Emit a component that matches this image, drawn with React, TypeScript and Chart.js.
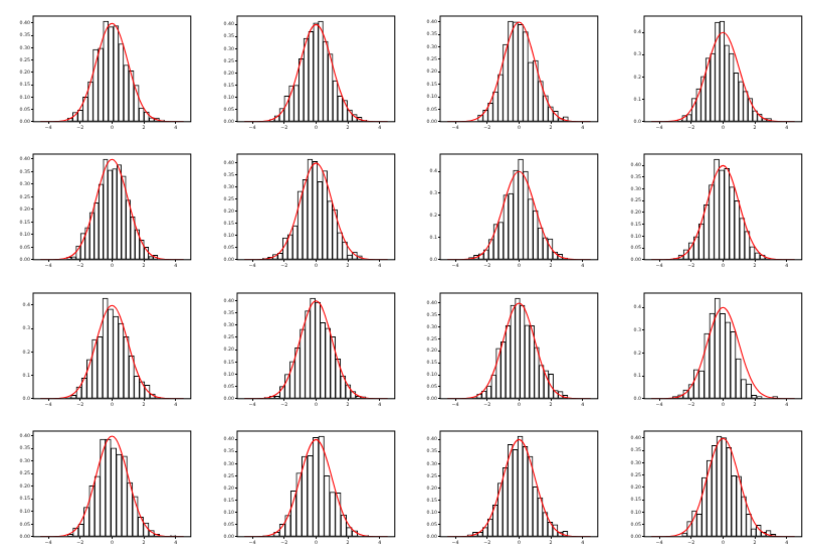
import React, { useEffect, useRef } from "react";
import { Chart, registerables } from "chart.js";

Chart.register(...registerables);

// Red overlay curve (standard normal density, values read per 0.25)
const curveX = [
  -4.5, -4.25, -4, -3.75, -3.5, -3.25, -3, -2.75, -2.5, -2.25, -2, -1.75, -1.5, -1.25, -1, -0.75, -0.5, -0.25,
  0, 0.25, 0.5, 0.75, 1, 1.25, 1.5, 1.75, 2, 2.25, 2.5, 2.75, 3, 3.25, 3.5, 3.75, 4, 4.25, 4.5,
];
const curveY = [
  0.00002, 0.00005, 0.0001, 0.0004, 0.0009, 0.002, 0.0044, 0.0091, 0.0175, 0.0317, 0.054, 0.0863, 0.1295, 0.1826, 0.242, 0.3011, 0.3521, 0.3867,
  0.3989, 0.3867, 0.3521, 0.3011, 0.242, 0.1826, 0.1295, 0.0863, 0.054, 0.0317, 0.0175, 0.0091, 0.0044, 0.002, 0.0009, 0.0004, 0.0001, 0.00005, 0.00002,
];

const xTickValues = [-4, -2, 0, 2, 4];
const xLimits = [-4.95, 4.95];

// Histogram bins: left edge of first bin and bin width per panel
const binStarts = [-2.79, -2.91, -2.58, -2.86, -2.83, -3.34, -3.15, -3.12, -2.9, -3.23, -2.94, -3.16, -2.79, -3.34, -3.22, -2.57];
const binWidths = [0.32, 0.305, 0.315, 0.295, 0.285, 0.312, 0.31, 0.32, 0.33, 0.318, 0.3, 0.33, 0.34, 0.35, 0.314, 0.31];
const yTickSteps = [0.05, 0.05, 0.05, 0.1, 0.05, 0.05, 0.1, 0.05, 0.1, 0.05, 0.05, 0.1, 0.05, 0.05, 0.05, 0.05];

const hist1 = [0.015, 0.038, 0.047, 0.1, 0.162, 0.293, 0.298, 0.408, 0.385, 0.389, 0.316, 0.23, 0.206, 0.148, 0.056, 0.04, 0.016, 0.015, 0.007];
const hist2 = [0.008, 0.025, 0.055, 0.105, 0.148, 0.15, 0.258, 0.342, 0.37, 0.405, 0.413, 0.33, 0.278, 0.168, 0.105, 0.088, 0.048, 0.03, 0.018, 0.006];
const hist3 = [0.027, 0.046, 0.075, 0.12, 0.19, 0.31, 0.403, 0.4, 0.39, 0.36, 0.238, 0.245, 0.162, 0.105, 0.06, 0.042, 0.013, 0.02];
const hist4 = [0.008, 0.028, 0.033, 0.105, 0.148, 0.203, 0.285, 0.305, 0.445, 0.45, 0.343, 0.305, 0.218, 0.18, 0.136, 0.105, 0.05, 0.035, 0.015, 0.015];
const hist5 = [0.01, 0.012, 0.055, 0.105, 0.128, 0.188, 0.226, 0.3, 0.4, 0.357, 0.362, 0.378, 0.333, 0.237, 0.17, 0.12, 0.078, 0.05, 0.013, 0.018];
const hist6 = [0.006, 0.01, 0.022, 0.027, 0.09, 0.104, 0.14, 0.283, 0.33, 0.415, 0.405, 0.322, 0.367, 0.242, 0.207, 0.112, 0.074, 0.02, 0.032, 0.016];
const hist7 = [0.01, 0.02, 0.027, 0.045, 0.092, 0.16, 0.17, 0.293, 0.3, 0.405, 0.455, 0.4, 0.275, 0.222, 0.145, 0.1, 0.095, 0.035, 0.025, 0.008];
const hist8 = [0.005, 0.02, 0.043, 0.072, 0.098, 0.152, 0.232, 0.317, 0.426, 0.38, 0.386, 0.308, 0.25, 0.176, 0.12, 0.055, 0.03, 0.02, 0.007];
const hist9 = [0.005, 0.015, 0.05, 0.088, 0.168, 0.253, 0.265, 0.43, 0.383, 0.352, 0.322, 0.265, 0.183, 0.097, 0.073, 0.058, 0.02, 0.005];
const hist10 = [0.005, 0.01, 0.01, 0.05, 0.1, 0.152, 0.207, 0.283, 0.358, 0.41, 0.393, 0.31, 0.287, 0.252, 0.162, 0.093, 0.057, 0.03, 0.01, 0.008];
const hist11 = [0.005, 0.02, 0.033, 0.053, 0.1, 0.21, 0.238, 0.305, 0.39, 0.42, 0.39, 0.307, 0.305, 0.215, 0.14, 0.118, 0.103, 0.035, 0.03, 0.015];
const hist12 = [0.01, 0.017, 0.038, 0.063, 0.128, 0.122, 0.285, 0.373, 0.44, 0.372, 0.335, 0.293, 0.175, 0.085, 0.065, 0.015, 0.01, 0, 0, 0.01];
const hist13 = [0.01, 0.035, 0.05, 0.117, 0.202, 0.24, 0.387, 0.387, 0.352, 0.327, 0.32, 0.215, 0.16, 0.078, 0.055, 0.025, 0.01, 0, 0, 0.005];
const hist14 = [0.004, 0.005, 0.018, 0.052, 0.088, 0.188, 0.262, 0.33, 0.333, 0.407, 0.413, 0.25, 0.183, 0.18, 0.09, 0.038, 0.025, 0.004, 0.005];
const hist15 = [0.008, 0.018, 0.018, 0.038, 0.073, 0.13, 0.22, 0.283, 0.378, 0.358, 0.413, 0.37, 0.33, 0.205, 0.16, 0.1, 0.06, 0.05, 0.02, 0.023];
const hist16 = [0.015, 0.062, 0.105, 0.092, 0.24, 0.31, 0.37, 0.408, 0.402, 0.362, 0.247, 0.245, 0.163, 0.092, 0.033, 0.047, 0.018, 0.025, 0.01];

const histograms = [hist1, hist2, hist3, hist4, hist5, hist6, hist7, hist8, hist9, hist10, hist11, hist12, hist13, hist14, hist15, hist16];

// Layout (pixels)
const AX_LEFT0 = 33.3;
const AX_DX = 203.55;
const AX_TOP0 = 16;
const AX_DY = 138.45;
const AX_W = 156.8;
const AX_H = 104.8;
const PAD_L = 33;
const PAD_R = 8;
const PAD_T = 8;
const PAD_B = 16;

const tickFont = { family: "DejaVu Sans", size: 4.7 };
const tickColor = "#222";

const framePlugin = {
  id: "frame",
  afterDraw(chart: any) {
    const { ctx, chartArea: a } = chart;
    ctx.save();
    ctx.strokeStyle = "#000";
    ctx.lineWidth = 1;
    ctx.strokeRect(a.left, a.top, a.right - a.left, a.bottom - a.top);
    ctx.restore();
  },
};

function Panel({ idx }: { idx: number }) {
  const ref = useRef<HTMLCanvasElement | null>(null);
  useEffect(() => {
    const heights = histograms[idx];
    const start = binStarts[idx];
    const w = binWidths[idx];
    const barData = heights.map((h, i) => ({ x: start + (i + 0.5) * w, y: h }));
    const lineData = curveX.map((x, i) => ({ x, y: curveY[i] }));
    const yMax = Math.max(...heights, ...curveY) * 1.05;
    const step = yTickSteps[idx];
    const yTicks: number[] = [];
    for (let k = 0; k * step <= yMax + 1e-9; k++) yTicks.push(+(k * step).toFixed(3));
    const decimals = step < 0.1 ? 2 : 1;

    const chart = new Chart(ref.current as HTMLCanvasElement, {
      type: "bar",
      data: {
        datasets: [
          {
            type: "line",
            data: lineData,
            borderColor: "#ff0000",
            borderWidth: 1.1,
            pointRadius: 0,
            cubicInterpolationMode: "monotone",
            fill: false,
            order: 0,
          } as any,
          {
            type: "bar",
            data: barData,
            backgroundColor: "#ffffff",
            borderColor: "#000000",
            borderWidth: 1,
            borderSkipped: false,
            barPercentage: 1,
            categoryPercentage: 1,
            order: 1,
          } as any,
        ],
      },
      options: {
        animation: false,
        responsive: true,
        maintainAspectRatio: false,
        layout: { padding: { left: 0, right: PAD_R, top: PAD_T, bottom: 0 } },
        plugins: { legend: { display: false }, tooltip: { enabled: false } },
        scales: {
          x: {
            type: "linear",
            min: xLimits[0],
            max: xLimits[1],
            offset: false,
            border: { display: false },
            grid: { offset: false, drawOnChartArea: false, drawTicks: true, tickLength: 2, tickColor: "#000", lineWidth: 1 },
            ticks: {
              font: tickFont,
              color: tickColor,
              padding: 1,
              maxRotation: 0,
              autoSkip: false,
              callback: (v: any) => (v < 0 ? "\u2212" + Math.abs(v) : String(v)),
            },
            afterBuildTicks: (s: any) => {
              s.ticks = xTickValues.map((v) => ({ value: v }));
            },
            afterFit: (s: any) => {
              s.height = PAD_B;
            },
          },
          y: {
            type: "linear",
            min: 0,
            max: yMax,
            border: { display: false },
            grid: { drawOnChartArea: false, drawTicks: true, tickLength: 2, tickColor: "#000", lineWidth: 1 },
            ticks: {
              font: tickFont,
              color: tickColor,
              padding: 1,
              autoSkip: false,
              callback: (v: any) => Number(v).toFixed(decimals),
            },
            afterBuildTicks: (s: any) => {
              s.ticks = yTicks.map((v) => ({ value: v }));
            },
            afterFit: (s: any) => {
              s.width = PAD_L;
            },
          },
        },
      } as any,
      plugins: [framePlugin],
    });
    return () => chart.destroy();
  }, [idx]);

  const col = idx % 4;
  const row = Math.floor(idx / 4);
  const left = AX_LEFT0 + col * AX_DX - PAD_L;
  const top = AX_TOP0 + row * AX_DY - PAD_T;
  return (
    <div
      style={{
        position: "absolute",
        left,
        top,
        width: AX_W + PAD_L + PAD_R,
        height: AX_H + PAD_T + PAD_B,
      }}
    >
      <canvas ref={ref} />
    </div>
  );
}

export default function App() {
  return (
    <div
      style={{
        position: "fixed",
        left: 0,
        top: 0,
        width: 826,
        height: 552,
        background: "#ffffff",
        overflow: "hidden",
      }}
    >
      {histograms.map((_, i) => (
        <Panel key={i} idx={i} />
      ))}
    </div>
  );
}
